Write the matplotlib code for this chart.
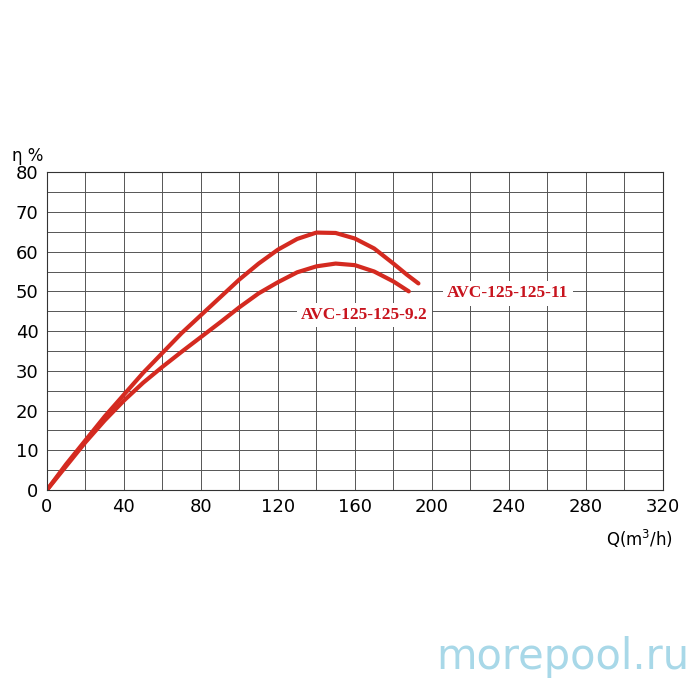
import numpy as np
import matplotlib.pyplot as plt

q_11 = [0, 10, 20, 30, 40, 50, 60, 70, 80, 90, 100, 110, 120, 130, 140, 150, 160, 170, 180, 187, 193]
eta_11 = [0, 6.5, 12.5, 18.5, 24, 29.5, 34.5, 39.5, 44, 48.5, 53, 57, 60.5, 63.2, 64.8, 64.7, 63.3, 60.8, 57, 54.2, 52]
q_92 = [0, 10, 20, 30, 40, 50, 60, 70, 80, 90, 100, 110, 120, 130, 140, 150, 160, 170, 180, 188]
eta_92 = [0, 6, 12, 17.5, 22.5, 27, 31, 34.8, 38.5, 42.2, 46, 49.5, 52.3, 54.8, 56.3, 57, 56.6, 55, 52.5, 50]

fig = plt.figure(figsize=(7, 7), dpi=100)
ax = fig.add_axes([0.067, 0.3, 0.88, 0.454])

ax.plot(q_11, eta_11, color="#d42a20", lw=3, solid_capstyle="round")
ax.plot(q_92, eta_92, color="#d42a20", lw=3, solid_capstyle="round")

ax.set_xlim(0, 320)
ax.set_ylim(0, 80)
ax.set_xticks(range(0, 321, 40))
ax.set_yticks(range(0, 81, 10))
ax.set_xticks(range(0, 321, 20), minor=True)
ax.set_yticks(range(0, 81, 5), minor=True)
ax.grid(True, which="both", color="#555555", lw=0.7)
ax.tick_params(which="both", length=0, labelsize=13, pad=6)
for s in ax.spines.values():
    s.set_color("#333333")

ax.text(208, 49.5, "AVC-125-125-11", color="#c8141e", fontsize=12.5, family="Liberation Serif",
        weight="bold", va="center", bbox=dict(facecolor="white", edgecolor="none", pad=3))
ax.text(132, 44, "AVC-125-125-9.2", color="#c8141e", fontsize=12.5, family="Liberation Serif",
        weight="bold", va="center", bbox=dict(facecolor="white", edgecolor="none", pad=3))

fig.text(0.017, 0.77, "η %", fontsize=12)
fig.text(0.865, 0.22, "Q(m$^3$/h)", fontsize=12)
fig.text(0.985, 0.045, "morepool.ru", fontsize=30, color="#a8d8e8", ha="right")

fig.savefig("out.png")
